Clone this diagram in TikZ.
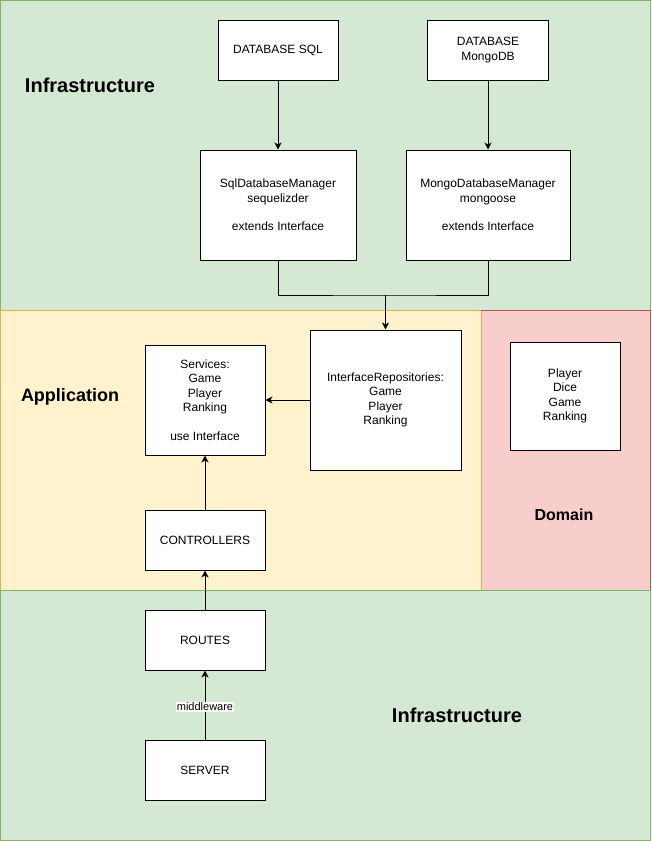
\documentclass[tikz,border=0pt]{standalone}
\usepackage{fontspec}
\setmainfont{Liberation Sans}
\usepackage{xcolor}
\usetikzlibrary{arrows.meta,positioning}
\definecolor{infrafill}{HTML}{D5E8D4}
\definecolor{infraline}{HTML}{82B366}
\definecolor{appfill}{HTML}{FFF2CC}
\definecolor{appline}{HTML}{D6B656}
\definecolor{domfill}{HTML}{F8CECC}
\definecolor{domline}{HTML}{B85450}

\begin{document}
\begin{tikzpicture}[x=1pt,y=-1pt,
  box/.style={draw=black,fill=white,line width=1pt,align=center,inner sep=0pt,font=\fontsize{12}{14.4}\selectfont},
  arr/.style={line width=1pt,-{Stealth[length=7pt,width=7pt,inset=2pt]}},
  layer/.style={font=\bfseries\fontsize{#1}{#1}\selectfont},
  mid/.style={fill=white,inner sep=1pt,font=\fontsize{11}{13}\selectfont}]
\useasboundingbox (0,0) rectangle (651,841);
\draw[draw=infraline,fill=infrafill] (0.5,0.5) rectangle (650.5,310);
\draw[draw=appline,fill=appfill] (0.5,310) rectangle (481,590);
\draw[draw=domline,fill=domfill] (481,310) rectangle (650.5,590);
\draw[draw=infraline,fill=infrafill] (0.5,590) rectangle (650.5,840.5);
\draw[draw=appline] (481,310.5) -- (481,589.5);

\node[layer=20] (infratop) at (90,85) {Infrastructure};
\node[layer=18] (application) at (70,397) {Application};
\node[layer=16] (domain) at (564,515) {Domain};
\node[layer=20] (infrabottom) at (457,715) {Infrastructure};

\node[box,minimum width=120pt,minimum height=60pt] (dbsql) at (278,50) {DATABASE SQL};
\node[box,minimum width=121pt,minimum height=60pt] (dbmongo) at (488,50) {DATABASE\\MongoDB};
\node[box,minimum width=156pt,minimum height=110pt] (sqlmgr) at (278,205) {SqlDatabaseManager\\sequelizder\\[14.4pt]extends Interface};
\node[box,minimum width=164pt,minimum height=110pt] (mongomgr) at (488,205) {MongoDatabaseManager\\mongoose\\[14.4pt]extends Interface};
\node[box,minimum width=151pt,minimum height=140pt] (repo) at (385.5,400) {InterfaceRepositories:\\Game\\Player\\Ranking};
\node[box,minimum width=120pt,minimum height=110pt] (services) at (205,400) {Services:\\Game\\Player\\Ranking\\[14.4pt]use Interface};
\node[box,minimum width=120pt,minimum height=60pt] (controllers) at (205,540) {CONTROLLERS};
\node[box,minimum width=120pt,minimum height=60pt] (routes) at (205,640) {ROUTES};
\node[box,minimum width=120pt,minimum height=60pt] (server) at (205,770) {SERVER};
\node[box,minimum width=110pt,minimum height=108pt] (entities) at (565,396) {Player\\Dice\\Game\\Ranking};

\coordinate (split) at (385.5,295);
\draw[arr] (dbsql) -- (sqlmgr);
\draw[arr] (dbmongo) -- (mongomgr);
\draw[line width=1pt] (sqlmgr.south) |- (split) -| (mongomgr.south);
\draw[arr] (split) -- (repo);
\draw[arr] (repo) -- (services);
\draw[arr] (controllers) -- (services);
\draw[arr] (routes) -- (controllers);
\draw[arr] (server) -- node[mid,yshift=-2pt]{middleware} (routes);
\end{tikzpicture}
\end{document}
